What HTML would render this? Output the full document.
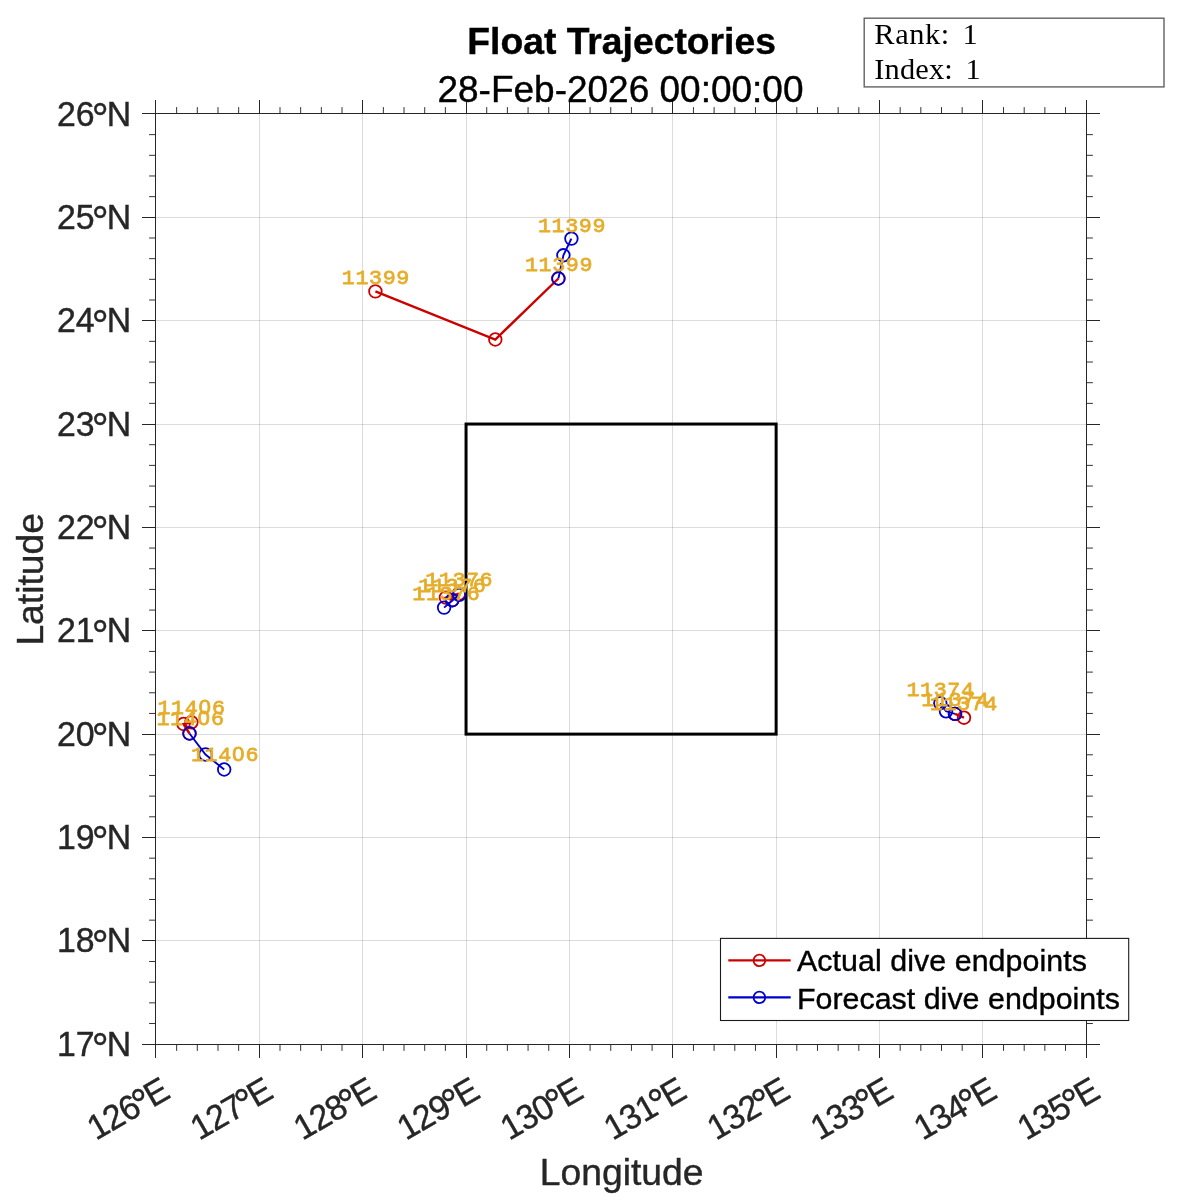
<!DOCTYPE html>
<html lang="en">
<head>
<meta charset="utf-8">
<title>Float Trajectories</title>
<style>
html,body{margin:0;padding:0;background:#fff;}
body{width:1200px;height:1200px;overflow:hidden;}
svg{display:block;}
</style>
</head>
<body>
<svg width="1200" height="1200" viewBox="0 0 1200 1200" role="img" aria-label="Float Trajectories map">
<rect x="0" y="0" width="1200" height="1200" fill="#ffffff"/>
<g stroke="#262626" stroke-opacity="0.16" stroke-width="1.0" fill="none"><line x1="259.5" y1="113.5" x2="259.5" y2="1044.5"/><line x1="155.5" y1="940.5" x2="1086.5" y2="940.5"/><line x1="362.5" y1="113.5" x2="362.5" y2="1044.5"/><line x1="155.5" y1="837.5" x2="1086.5" y2="837.5"/><line x1="466.5" y1="113.5" x2="466.5" y2="1044.5"/><line x1="155.5" y1="734.5" x2="1086.5" y2="734.5"/><line x1="569.5" y1="113.5" x2="569.5" y2="1044.5"/><line x1="155.5" y1="630.5" x2="1086.5" y2="630.5"/><line x1="672.5" y1="113.5" x2="672.5" y2="1044.5"/><line x1="155.5" y1="527.5" x2="1086.5" y2="527.5"/><line x1="776.5" y1="113.5" x2="776.5" y2="1044.5"/><line x1="155.5" y1="424.5" x2="1086.5" y2="424.5"/><line x1="879.5" y1="113.5" x2="879.5" y2="1044.5"/><line x1="155.5" y1="320.5" x2="1086.5" y2="320.5"/><line x1="982.5" y1="113.5" x2="982.5" y2="1044.5"/><line x1="155.5" y1="217.5" x2="1086.5" y2="217.5"/></g>
<g stroke="#333333" stroke-width="1.0" fill="none"><line x1="176.64" y1="1044.5" x2="176.64" y2="1050.9"/><line x1="176.64" y1="113.5" x2="176.64" y2="107.1"/><line x1="155.5" y1="1023.53" x2="149.1" y2="1023.53"/><line x1="1086.5" y1="1023.53" x2="1092.9" y2="1023.53"/><line x1="197.31" y1="1044.5" x2="197.31" y2="1050.9"/><line x1="197.31" y1="113.5" x2="197.31" y2="107.1"/><line x1="155.5" y1="1002.86" x2="149.1" y2="1002.86"/><line x1="1086.5" y1="1002.86" x2="1092.9" y2="1002.86"/><line x1="217.99" y1="1044.5" x2="217.99" y2="1050.9"/><line x1="217.99" y1="113.5" x2="217.99" y2="107.1"/><line x1="155.5" y1="982.18" x2="149.1" y2="982.18"/><line x1="1086.5" y1="982.18" x2="1092.9" y2="982.18"/><line x1="238.66" y1="1044.5" x2="238.66" y2="1050.9"/><line x1="238.66" y1="113.5" x2="238.66" y2="107.1"/><line x1="155.5" y1="961.51" x2="149.1" y2="961.51"/><line x1="1086.5" y1="961.51" x2="1092.9" y2="961.51"/><line x1="280" y1="1044.5" x2="280" y2="1050.9"/><line x1="280" y1="113.5" x2="280" y2="107.1"/><line x1="155.5" y1="920.17" x2="149.1" y2="920.17"/><line x1="1086.5" y1="920.17" x2="1092.9" y2="920.17"/><line x1="300.67" y1="1044.5" x2="300.67" y2="1050.9"/><line x1="300.67" y1="113.5" x2="300.67" y2="107.1"/><line x1="155.5" y1="899.5" x2="149.1" y2="899.5"/><line x1="1086.5" y1="899.5" x2="1092.9" y2="899.5"/><line x1="321.35" y1="1044.5" x2="321.35" y2="1050.9"/><line x1="321.35" y1="113.5" x2="321.35" y2="107.1"/><line x1="155.5" y1="878.82" x2="149.1" y2="878.82"/><line x1="1086.5" y1="878.82" x2="1092.9" y2="878.82"/><line x1="342.02" y1="1044.5" x2="342.02" y2="1050.9"/><line x1="342.02" y1="113.5" x2="342.02" y2="107.1"/><line x1="155.5" y1="858.15" x2="149.1" y2="858.15"/><line x1="1086.5" y1="858.15" x2="1092.9" y2="858.15"/><line x1="383.36" y1="1044.5" x2="383.36" y2="1050.9"/><line x1="383.36" y1="113.5" x2="383.36" y2="107.1"/><line x1="155.5" y1="816.81" x2="149.1" y2="816.81"/><line x1="1086.5" y1="816.81" x2="1092.9" y2="816.81"/><line x1="404.03" y1="1044.5" x2="404.03" y2="1050.9"/><line x1="404.03" y1="113.5" x2="404.03" y2="107.1"/><line x1="155.5" y1="796.14" x2="149.1" y2="796.14"/><line x1="1086.5" y1="796.14" x2="1092.9" y2="796.14"/><line x1="424.71" y1="1044.5" x2="424.71" y2="1050.9"/><line x1="424.71" y1="113.5" x2="424.71" y2="107.1"/><line x1="155.5" y1="775.46" x2="149.1" y2="775.46"/><line x1="1086.5" y1="775.46" x2="1092.9" y2="775.46"/><line x1="445.38" y1="1044.5" x2="445.38" y2="1050.9"/><line x1="445.38" y1="113.5" x2="445.38" y2="107.1"/><line x1="155.5" y1="754.79" x2="149.1" y2="754.79"/><line x1="1086.5" y1="754.79" x2="1092.9" y2="754.79"/><line x1="486.72" y1="1044.5" x2="486.72" y2="1050.9"/><line x1="486.72" y1="113.5" x2="486.72" y2="107.1"/><line x1="155.5" y1="713.45" x2="149.1" y2="713.45"/><line x1="1086.5" y1="713.45" x2="1092.9" y2="713.45"/><line x1="507.39" y1="1044.5" x2="507.39" y2="1050.9"/><line x1="507.39" y1="113.5" x2="507.39" y2="107.1"/><line x1="155.5" y1="692.78" x2="149.1" y2="692.78"/><line x1="1086.5" y1="692.78" x2="1092.9" y2="692.78"/><line x1="528.07" y1="1044.5" x2="528.07" y2="1050.9"/><line x1="528.07" y1="113.5" x2="528.07" y2="107.1"/><line x1="155.5" y1="672.1" x2="149.1" y2="672.1"/><line x1="1086.5" y1="672.1" x2="1092.9" y2="672.1"/><line x1="548.74" y1="1044.5" x2="548.74" y2="1050.9"/><line x1="548.74" y1="113.5" x2="548.74" y2="107.1"/><line x1="155.5" y1="651.43" x2="149.1" y2="651.43"/><line x1="1086.5" y1="651.43" x2="1092.9" y2="651.43"/><line x1="590.08" y1="1044.5" x2="590.08" y2="1050.9"/><line x1="590.08" y1="113.5" x2="590.08" y2="107.1"/><line x1="155.5" y1="610.09" x2="149.1" y2="610.09"/><line x1="1086.5" y1="610.09" x2="1092.9" y2="610.09"/><line x1="610.75" y1="1044.5" x2="610.75" y2="1050.9"/><line x1="610.75" y1="113.5" x2="610.75" y2="107.1"/><line x1="155.5" y1="589.42" x2="149.1" y2="589.42"/><line x1="1086.5" y1="589.42" x2="1092.9" y2="589.42"/><line x1="631.43" y1="1044.5" x2="631.43" y2="1050.9"/><line x1="631.43" y1="113.5" x2="631.43" y2="107.1"/><line x1="155.5" y1="568.74" x2="149.1" y2="568.74"/><line x1="1086.5" y1="568.74" x2="1092.9" y2="568.74"/><line x1="652.1" y1="1044.5" x2="652.1" y2="1050.9"/><line x1="652.1" y1="113.5" x2="652.1" y2="107.1"/><line x1="155.5" y1="548.07" x2="149.1" y2="548.07"/><line x1="1086.5" y1="548.07" x2="1092.9" y2="548.07"/><line x1="693.44" y1="1044.5" x2="693.44" y2="1050.9"/><line x1="693.44" y1="113.5" x2="693.44" y2="107.1"/><line x1="155.5" y1="506.73" x2="149.1" y2="506.73"/><line x1="1086.5" y1="506.73" x2="1092.9" y2="506.73"/><line x1="714.11" y1="1044.5" x2="714.11" y2="1050.9"/><line x1="714.11" y1="113.5" x2="714.11" y2="107.1"/><line x1="155.5" y1="486.06" x2="149.1" y2="486.06"/><line x1="1086.5" y1="486.06" x2="1092.9" y2="486.06"/><line x1="734.79" y1="1044.5" x2="734.79" y2="1050.9"/><line x1="734.79" y1="113.5" x2="734.79" y2="107.1"/><line x1="155.5" y1="465.38" x2="149.1" y2="465.38"/><line x1="1086.5" y1="465.38" x2="1092.9" y2="465.38"/><line x1="755.46" y1="1044.5" x2="755.46" y2="1050.9"/><line x1="755.46" y1="113.5" x2="755.46" y2="107.1"/><line x1="155.5" y1="444.71" x2="149.1" y2="444.71"/><line x1="1086.5" y1="444.71" x2="1092.9" y2="444.71"/><line x1="796.8" y1="1044.5" x2="796.8" y2="1050.9"/><line x1="796.8" y1="113.5" x2="796.8" y2="107.1"/><line x1="155.5" y1="403.37" x2="149.1" y2="403.37"/><line x1="1086.5" y1="403.37" x2="1092.9" y2="403.37"/><line x1="817.47" y1="1044.5" x2="817.47" y2="1050.9"/><line x1="817.47" y1="113.5" x2="817.47" y2="107.1"/><line x1="155.5" y1="382.7" x2="149.1" y2="382.7"/><line x1="1086.5" y1="382.7" x2="1092.9" y2="382.7"/><line x1="838.15" y1="1044.5" x2="838.15" y2="1050.9"/><line x1="838.15" y1="113.5" x2="838.15" y2="107.1"/><line x1="155.5" y1="362.02" x2="149.1" y2="362.02"/><line x1="1086.5" y1="362.02" x2="1092.9" y2="362.02"/><line x1="858.82" y1="1044.5" x2="858.82" y2="1050.9"/><line x1="858.82" y1="113.5" x2="858.82" y2="107.1"/><line x1="155.5" y1="341.35" x2="149.1" y2="341.35"/><line x1="1086.5" y1="341.35" x2="1092.9" y2="341.35"/><line x1="900.16" y1="1044.5" x2="900.16" y2="1050.9"/><line x1="900.16" y1="113.5" x2="900.16" y2="107.1"/><line x1="155.5" y1="300.01" x2="149.1" y2="300.01"/><line x1="1086.5" y1="300.01" x2="1092.9" y2="300.01"/><line x1="920.83" y1="1044.5" x2="920.83" y2="1050.9"/><line x1="920.83" y1="113.5" x2="920.83" y2="107.1"/><line x1="155.5" y1="279.34" x2="149.1" y2="279.34"/><line x1="1086.5" y1="279.34" x2="1092.9" y2="279.34"/><line x1="941.51" y1="1044.5" x2="941.51" y2="1050.9"/><line x1="941.51" y1="113.5" x2="941.51" y2="107.1"/><line x1="155.5" y1="258.66" x2="149.1" y2="258.66"/><line x1="1086.5" y1="258.66" x2="1092.9" y2="258.66"/><line x1="962.18" y1="1044.5" x2="962.18" y2="1050.9"/><line x1="962.18" y1="113.5" x2="962.18" y2="107.1"/><line x1="155.5" y1="237.99" x2="149.1" y2="237.99"/><line x1="1086.5" y1="237.99" x2="1092.9" y2="237.99"/><line x1="1003.52" y1="1044.5" x2="1003.52" y2="1050.9"/><line x1="1003.52" y1="113.5" x2="1003.52" y2="107.1"/><line x1="155.5" y1="196.65" x2="149.1" y2="196.65"/><line x1="1086.5" y1="196.65" x2="1092.9" y2="196.65"/><line x1="1024.19" y1="1044.5" x2="1024.19" y2="1050.9"/><line x1="1024.19" y1="113.5" x2="1024.19" y2="107.1"/><line x1="155.5" y1="175.98" x2="149.1" y2="175.98"/><line x1="1086.5" y1="175.98" x2="1092.9" y2="175.98"/><line x1="1044.87" y1="1044.5" x2="1044.87" y2="1050.9"/><line x1="1044.87" y1="113.5" x2="1044.87" y2="107.1"/><line x1="155.5" y1="155.3" x2="149.1" y2="155.3"/><line x1="1086.5" y1="155.3" x2="1092.9" y2="155.3"/><line x1="1065.54" y1="1044.5" x2="1065.54" y2="1050.9"/><line x1="1065.54" y1="113.5" x2="1065.54" y2="107.1"/><line x1="155.5" y1="134.63" x2="149.1" y2="134.63"/><line x1="1086.5" y1="134.63" x2="1092.9" y2="134.63"/></g>
<g stroke="#262626" stroke-width="1.0" fill="none"><line x1="155.5" y1="1044.5" x2="155.5" y2="1058"/><line x1="155.5" y1="113.5" x2="155.5" y2="100"/><line x1="155.5" y1="1044.5" x2="142" y2="1044.5"/><line x1="1086.5" y1="1044.5" x2="1100" y2="1044.5"/><line x1="259.5" y1="1044.5" x2="259.5" y2="1058"/><line x1="259.5" y1="113.5" x2="259.5" y2="100"/><line x1="155.5" y1="940.5" x2="142" y2="940.5"/><line x1="1086.5" y1="940.5" x2="1100" y2="940.5"/><line x1="362.5" y1="1044.5" x2="362.5" y2="1058"/><line x1="362.5" y1="113.5" x2="362.5" y2="100"/><line x1="155.5" y1="837.5" x2="142" y2="837.5"/><line x1="1086.5" y1="837.5" x2="1100" y2="837.5"/><line x1="466.5" y1="1044.5" x2="466.5" y2="1058"/><line x1="466.5" y1="113.5" x2="466.5" y2="100"/><line x1="155.5" y1="734.5" x2="142" y2="734.5"/><line x1="1086.5" y1="734.5" x2="1100" y2="734.5"/><line x1="569.5" y1="1044.5" x2="569.5" y2="1058"/><line x1="569.5" y1="113.5" x2="569.5" y2="100"/><line x1="155.5" y1="630.5" x2="142" y2="630.5"/><line x1="1086.5" y1="630.5" x2="1100" y2="630.5"/><line x1="672.5" y1="1044.5" x2="672.5" y2="1058"/><line x1="672.5" y1="113.5" x2="672.5" y2="100"/><line x1="155.5" y1="527.5" x2="142" y2="527.5"/><line x1="1086.5" y1="527.5" x2="1100" y2="527.5"/><line x1="776.5" y1="1044.5" x2="776.5" y2="1058"/><line x1="776.5" y1="113.5" x2="776.5" y2="100"/><line x1="155.5" y1="424.5" x2="142" y2="424.5"/><line x1="1086.5" y1="424.5" x2="1100" y2="424.5"/><line x1="879.5" y1="1044.5" x2="879.5" y2="1058"/><line x1="879.5" y1="113.5" x2="879.5" y2="100"/><line x1="155.5" y1="320.5" x2="142" y2="320.5"/><line x1="1086.5" y1="320.5" x2="1100" y2="320.5"/><line x1="982.5" y1="1044.5" x2="982.5" y2="1058"/><line x1="982.5" y1="113.5" x2="982.5" y2="100"/><line x1="155.5" y1="217.5" x2="142" y2="217.5"/><line x1="1086.5" y1="217.5" x2="1100" y2="217.5"/><line x1="1086.5" y1="1044.5" x2="1086.5" y2="1058"/><line x1="1086.5" y1="113.5" x2="1086.5" y2="100"/><line x1="155.5" y1="113.5" x2="142" y2="113.5"/><line x1="1086.5" y1="113.5" x2="1100" y2="113.5"/><rect x="155.5" y="113.5" width="931" height="931"/></g>
<rect x="466.05" y="424.04" width="310.08" height="310.08" fill="none" stroke="#000" stroke-width="3"/>
<g fill="none" stroke="#cc0000"><polyline stroke-width="2.4" points="375.4,291.4 495.3,339.5 558.4,278.5"/><circle cx="375.4" cy="291.4" r="6.3" stroke-width="1.8"/><circle cx="495.3" cy="339.5" r="6.3" stroke-width="1.8"/><circle cx="558.4" cy="278.5" r="6.3" stroke-width="1.8"/></g>
<g fill="none" stroke="#cc0000"><polyline stroke-width="2.4" points="458.9,593.6 445.9,597.6 452.3,600.2"/><circle cx="458.9" cy="593.6" r="6.3" stroke-width="1.8"/><circle cx="445.9" cy="597.6" r="6.3" stroke-width="1.8"/><circle cx="452.3" cy="600.2" r="6.3" stroke-width="1.8"/></g>
<g fill="none" stroke="#cc0000"><polyline stroke-width="2.4" points="191.4,722.3 183.5,724 189.5,733.5"/><circle cx="191.4" cy="722.3" r="6.3" stroke-width="1.8"/><circle cx="183.5" cy="724" r="6.3" stroke-width="1.8"/><circle cx="189.5" cy="733.5" r="6.3" stroke-width="1.8"/></g>
<g fill="none" stroke="#cc0000"><polyline stroke-width="2.4" points="964,717.7 955,713.9 955,713.9"/><circle cx="964" cy="717.7" r="6.3" stroke-width="1.8"/><circle cx="955" cy="713.9" r="6.3" stroke-width="1.8"/><circle cx="955" cy="713.9" r="6.3" stroke-width="1.8"/></g>
<g fill="none" stroke="#0000cc"><polyline stroke-width="1.9" points="558.4,278.5 563.4,255.3 571.4,238.6"/><circle cx="558.4" cy="278.5" r="6.3" stroke-width="1.8"/><circle cx="563.4" cy="255.3" r="6.3" stroke-width="1.8"/><circle cx="571.4" cy="238.6" r="6.3" stroke-width="1.8"/></g>
<g fill="none" stroke="#0000cc"><polyline stroke-width="1.9" points="452.3,600.2 459.2,594.8 444.1,607.6"/><circle cx="452.3" cy="600.2" r="6.3" stroke-width="1.8"/><circle cx="459.2" cy="594.8" r="6.3" stroke-width="1.8"/><circle cx="444.1" cy="607.6" r="6.3" stroke-width="1.8"/></g>
<g fill="none" stroke="#0000cc"><polyline stroke-width="1.9" points="189.5,733.5 205.5,754.5 224.2,769.5"/><circle cx="189.5" cy="733.5" r="6.3" stroke-width="1.8"/><circle cx="205.5" cy="754.5" r="6.3" stroke-width="1.8"/><circle cx="224.2" cy="769.5" r="6.3" stroke-width="1.8"/></g>
<g fill="none" stroke="#0000cc"><polyline stroke-width="1.9" points="955,713.9 946,711.3 940.3,703.2"/><circle cx="955" cy="713.9" r="6.3" stroke-width="1.8"/><circle cx="946" cy="711.3" r="6.3" stroke-width="1.8"/><circle cx="940.3" cy="703.2" r="6.3" stroke-width="1.8"/></g>
<rect x="720.5" y="938.4" width="408.2" height="82.1" fill="#fff" stroke="#1a1a1a" stroke-width="1.1"/>
<g fill="none" stroke="#cc0000"><line stroke-width="2.1" x1="728.3" y1="960.4" x2="790.7" y2="960.4"/><circle cx="759.4" cy="960.4" r="5.8" stroke-width="1.8"/></g>
<text transform="translate(796.9 970.6) scale(1 0.98)" font-family="'Liberation Sans', Arial, Helvetica, sans-serif" font-size="30.4" letter-spacing="0.06" fill="#000" stroke="#000" stroke-width="0.4">Actual dive endpoints</text>
<g fill="none" stroke="#0000cc"><line stroke-width="2.1" x1="728.3" y1="997.4" x2="790.7" y2="997.4"/><circle cx="759.4" cy="997.4" r="5.8" stroke-width="1.8"/></g>
<text transform="translate(796.9 1008.6) scale(1 0.98)" font-family="'Liberation Sans', Arial, Helvetica, sans-serif" font-size="30.4" letter-spacing="0.02" fill="#000" stroke="#000" stroke-width="0.4">Forecast dive endpoints</text>
<g font-family="'Liberation Mono', 'Courier New', monospace" font-size="21.7" font-weight="normal" fill="#e6ad2a" stroke="#e6ad2a" stroke-width="0.8" stroke-linejoin="round" text-anchor="middle" letter-spacing="0.6"><text transform="translate(375.9 283.6) scale(1 0.94)">11399</text><text transform="translate(559 270.7) scale(1 0.94)">11399</text><text transform="translate(572 231.5) scale(1 0.94)">11399</text><text transform="translate(446.3 600.2) scale(1 0.94)">11376</text><text transform="translate(452.4 592.1) scale(1 0.94)">11376</text><text transform="translate(459.2 585.7) scale(1 0.94)">11376</text><text transform="translate(191.5 714.1) scale(1 0.94)">114<tspan font-family="'Liberation Sans', Arial, Helvetica, sans-serif" font-size="21.7" dx="0.48">0</tspan><tspan dx="0.48">6</tspan></text><text transform="translate(190.5 725.4) scale(1 0.94)">114<tspan font-family="'Liberation Sans', Arial, Helvetica, sans-serif" font-size="21.7" dx="0.48">0</tspan><tspan dx="0.48">6</tspan></text><text transform="translate(225 761.4) scale(1 0.94)">114<tspan font-family="'Liberation Sans', Arial, Helvetica, sans-serif" font-size="21.7" dx="0.48">0</tspan><tspan dx="0.48">6</tspan></text><text transform="translate(940.5 696) scale(1 0.94)">11374</text><text transform="translate(955.4 706.3) scale(1 0.94)">11374</text><text transform="translate(963.8 710.3) scale(1 0.94)">11374</text></g>
<g font-family="'Liberation Sans', Arial, Helvetica, sans-serif" font-size="33.85" fill="#262626" stroke="#262626" stroke-width="0.4"><text transform="translate(131.2 1055.8) scale(1 1.025)" text-anchor="end">17<tspan font-size="42.3" dx="-3" dy="7.2">°</tspan><tspan dx="-1.8" dy="-7.2">N</tspan></text><text transform="translate(131.2 952.44) scale(1 1.025)" text-anchor="end">18<tspan font-size="42.3" dx="-3" dy="7.2">°</tspan><tspan dx="-1.8" dy="-7.2">N</tspan></text><text transform="translate(131.2 849.08) scale(1 1.025)" text-anchor="end">19<tspan font-size="42.3" dx="-3" dy="7.2">°</tspan><tspan dx="-1.8" dy="-7.2">N</tspan></text><text transform="translate(131.2 745.72) scale(1 1.025)" text-anchor="end">20<tspan font-size="42.3" dx="-3" dy="7.2">°</tspan><tspan dx="-1.8" dy="-7.2">N</tspan></text><text transform="translate(131.2 642.36) scale(1 1.025)" text-anchor="end">21<tspan font-size="42.3" dx="-3" dy="7.2">°</tspan><tspan dx="-1.8" dy="-7.2">N</tspan></text><text transform="translate(131.2 539) scale(1 1.025)" text-anchor="end">22<tspan font-size="42.3" dx="-3" dy="7.2">°</tspan><tspan dx="-1.8" dy="-7.2">N</tspan></text><text transform="translate(131.2 435.64) scale(1 1.025)" text-anchor="end">23<tspan font-size="42.3" dx="-3" dy="7.2">°</tspan><tspan dx="-1.8" dy="-7.2">N</tspan></text><text transform="translate(131.2 332.28) scale(1 1.025)" text-anchor="end">24<tspan font-size="42.3" dx="-3" dy="7.2">°</tspan><tspan dx="-1.8" dy="-7.2">N</tspan></text><text transform="translate(131.2 228.92) scale(1 1.025)" text-anchor="end">25<tspan font-size="42.3" dx="-3" dy="7.2">°</tspan><tspan dx="-1.8" dy="-7.2">N</tspan></text><text transform="translate(131.2 125.56) scale(1 1.025)" text-anchor="end">26<tspan font-size="42.3" dx="-3" dy="7.2">°</tspan><tspan dx="-1.8" dy="-7.2">N</tspan></text><text transform="translate(171.37 1097.2) rotate(-30) scale(1 1.025)" text-anchor="end" letter-spacing="-0.8">126<tspan font-size="42.3" dx="-3" dy="5.6">°</tspan><tspan dx="-1.8" dy="-5.6">E</tspan></text><text transform="translate(274.73 1097.2) rotate(-30) scale(1 1.025)" text-anchor="end" letter-spacing="-0.8">127<tspan font-size="42.3" dx="-3" dy="5.6">°</tspan><tspan dx="-1.8" dy="-5.6">E</tspan></text><text transform="translate(378.09 1097.2) rotate(-30) scale(1 1.025)" text-anchor="end" letter-spacing="-0.8">128<tspan font-size="42.3" dx="-3" dy="5.6">°</tspan><tspan dx="-1.8" dy="-5.6">E</tspan></text><text transform="translate(481.45 1097.2) rotate(-30) scale(1 1.025)" text-anchor="end" letter-spacing="-0.8">129<tspan font-size="42.3" dx="-3" dy="5.6">°</tspan><tspan dx="-1.8" dy="-5.6">E</tspan></text><text transform="translate(584.81 1097.2) rotate(-30) scale(1 1.025)" text-anchor="end" letter-spacing="-0.8">130<tspan font-size="42.3" dx="-3" dy="5.6">°</tspan><tspan dx="-1.8" dy="-5.6">E</tspan></text><text transform="translate(688.17 1097.2) rotate(-30) scale(1 1.025)" text-anchor="end" letter-spacing="-0.8">131<tspan font-size="42.3" dx="-3" dy="5.6">°</tspan><tspan dx="-1.8" dy="-5.6">E</tspan></text><text transform="translate(791.53 1097.2) rotate(-30) scale(1 1.025)" text-anchor="end" letter-spacing="-0.8">132<tspan font-size="42.3" dx="-3" dy="5.6">°</tspan><tspan dx="-1.8" dy="-5.6">E</tspan></text><text transform="translate(894.89 1097.2) rotate(-30) scale(1 1.025)" text-anchor="end" letter-spacing="-0.8">133<tspan font-size="42.3" dx="-3" dy="5.6">°</tspan><tspan dx="-1.8" dy="-5.6">E</tspan></text><text transform="translate(998.25 1097.2) rotate(-30) scale(1 1.025)" text-anchor="end" letter-spacing="-0.8">134<tspan font-size="42.3" dx="-3" dy="5.6">°</tspan><tspan dx="-1.8" dy="-5.6">E</tspan></text><text transform="translate(1101.61 1097.2) rotate(-30) scale(1 1.025)" text-anchor="end" letter-spacing="-0.8">135<tspan font-size="42.3" dx="-3" dy="5.6">°</tspan><tspan dx="-1.8" dy="-5.6">E</tspan></text></g>
<text transform="translate(621.6 1185) scale(1 0.98)" text-anchor="middle" font-family="'Liberation Sans', Arial, Helvetica, sans-serif" font-size="37.3" font-weight="normal" fill="#262626" stroke="#262626" stroke-width="0.4">Longitude</text>
<text transform="translate(42.6 579.28) rotate(-90) scale(1 0.98)" text-anchor="middle" font-family="'Liberation Sans', Arial, Helvetica, sans-serif" font-size="37.3" font-weight="normal" fill="#262626" stroke="#262626" stroke-width="0.4">Latitude</text>
<text transform="translate(621.6 54.0) scale(1 0.98)" text-anchor="middle" font-family="'Liberation Sans', Arial, Helvetica, sans-serif" font-size="37.3" font-weight="bold" fill="#000" stroke="#000" stroke-width="0.4">Float Trajectories</text>
<text transform="translate(620.49 102.0) scale(1 1.01)" text-anchor="middle" font-family="'Liberation Sans', Arial, Helvetica, sans-serif" font-size="37.0" font-weight="normal" fill="#000" stroke="#000" stroke-width="0.4">28-Feb-2026 00:00:00</text>
<rect x="864.2" y="18.2" width="299.8" height="68.7" fill="#fff" stroke="#626262" stroke-width="1.4"/>
<g font-family="'Liberation Serif', 'DejaVu Serif', serif" font-size="30.4" fill="#000"><text x="874.3" y="44.0" letter-spacing="0.6" word-spacing="4.3">Rank: 1</text><text x="874.3" y="78.8" letter-spacing="0.15" word-spacing="5">Index: 1</text></g>
</svg>
</body>
</html>
